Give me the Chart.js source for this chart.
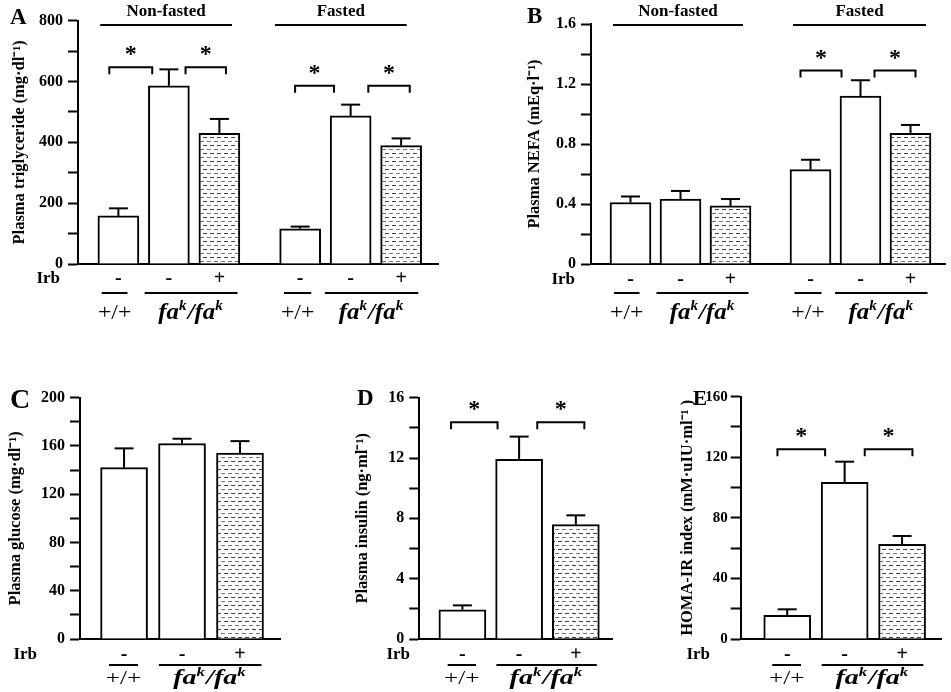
<!DOCTYPE html>
<html lang="en">
<head>
  <meta charset="UTF-8">
  <title>Plasma parameters</title>
  <script src="https://cdn.jsdelivr.net/npm/chart.js"></script>
  <style>
    body { margin: 0; background: #fff; }
    #page { position: relative; width: 951px; height: 692px; }
    #page canvas { position: absolute; }
  </style>
</head>
<body>
<div id="page"></div>

<script>
  // ---- data ----
  const barPos6 = [1, 2, 3, 4.6, 5.6, 6.6];
  const barPos3 = [1, 2, 3];
  const irb6 = ['-', '-', '+', '-', '-', '+'];
  const irb3 = ['-', '-', '+'];
  const fastGroups = ['Non-fasted', 'Fasted'];

  const tgMean = [158, 586, 430, 116, 487, 389];
  const tgSem = [25, 54, 47, 7, 37, 24];
  const nefaMean = [0.41, 0.433, 0.387, 0.629, 1.12, 0.871];
  const nefaSem = [0.04, 0.054, 0.046, 0.066, 0.105, 0.056];
  const gluMean = [142, 162, 154];
  const gluSem = [16, 4, 10];
  const insMean = [1.94, 11.92, 7.58];
  const insSem = [0.29, 1.5, 0.62];
  const homaMean = [15.6, 103.5, 62.5];
  const homaSem = [4, 13.6, 5.5];

  // significance brackets: [from x, to x, height]
  const tgStars = [[0.82, 1.67, 647], [2.33, 3.13, 647], [4.5, 5.27, 586], [5.95, 6.77, 586]];
  const nefaStars = [[4.40, 5.22, 1.29], [5.88, 6.70, 1.29]];
  const insStars = [[0.80, 1.62, 14.37], [2.32, 3.15, 14.37]];
  const homaStars = [[0.83, 1.66, 125.3], [2.35, 3.18, 125.3]];

  // genotype underlines: [from x, to x, label]
  const geno6 = [[0.67, 1.18, '+/+'], [1.52, 3.36, 'fa'], [4.28, 4.82, '+/+'], [5.09, 6.94, 'fa']];
  const geno3 = [[0.74, 1.24, '+/+'], [1.6, 3.37, 'fa']];
  const headersA = [[0.64, 3.25], [4.1, 6.71]];
  const headersB = [[0.65, 3.25], [4.25, 6.91]];

  const SERIF = '"Liberation Serif", "Times New Roman", serif';
  const TITLE_SIZE = 16.5;

  function makeHatch() {
    const c = document.createElement('canvas');
    c.width = 7; c.height = 8;
    const g = c.getContext('2d');
    g.fillStyle = '#fff'; g.fillRect(0, 0, 7, 8);
    g.fillStyle = '#444'; g.fillRect(0, 1, 4, 1);
    g.fillStyle = '#777'; g.fillRect(4, 5, 3, 1); g.fillRect(0, 5, 1, 1);
    return g.createPattern(c, 'repeat');
  }
  const hatch = makeHatch();

  const panels = [
    { letter: 'A', letterPos: [10, 23.5], letterSize: 23,
      box: { l: 0, t: 0, w: 470, h: 345 }, area: { l: 78, t: 20.7, r: 438, b: 264 },
      titleX: 20, yTitle: 'Plasma triglyceride (mg\u00b7dl\u207b\u00b9)', tickSize: 16, tickPad: 5,
      max: 800, step: 100, dec: 0, xmin: 0.2, xmax: 7.33, barW: 41,
      pos: barPos6, mean: tgMean, sem: tgSem, irb: irb6, stars: tgStars, geno: geno6,
      headers: headersA, rows: [15, 29, 48], irbRight: 60,
      wtSize: 22, genoSize: 23, stretch: 1.08 },
    { letter: 'B', letterPos: [527, 23], letterSize: 23,
      box: { l: 470, t: 0, w: 481, h: 345 }, area: { l: 591, t: 24, r: 945, b: 264 },
      titleX: 535, yTitle: 'Plasma NEFA (mEq\u00b7l\u207b\u00b9)', tickSize: 16, tickPad: 5,
      max: 1.6, step: 0.2, dec: 1, xmin: 0.21, xmax: 7.29, barW: 41,
      pos: barPos6, mean: nefaMean, sem: nefaSem, irb: irb6, stars: nefaStars, geno: geno6,
      headers: headersB, rows: [16, 29, 48], irbRight: 575,
      wtSize: 22, genoSize: 23, stretch: 1.08 },
    { letter: 'C', letterPos: [10, 408], letterSize: 28,
      box: { l: 0, t: 380, w: 320, h: 312 }, area: { l: 80, t: 397.7, r: 280, b: 639 },
      titleX: 16, yTitle: 'Plasma glucose (mg\u00b7dl\u207b\u00b9)', tickSize: 16, tickPad: 5,
      max: 200, step: 20, dec: 0, xmin: 0.24, xmax: 3.69, barW: 47,
      pos: barPos3, mean: gluMean, sem: gluSem, irb: irb3, stars: [], geno: geno3,
      headers: null, rows: [16, 26, 39], irbRight: 37,
      wtSize: 18, genoSize: 20, stretch: 1.4 },
    { letter: 'D', letterPos: [357, 405], letterSize: 23,
      box: { l: 320, t: 380, w: 310, h: 312 }, area: { l: 419.3, t: 397.7, r: 612.7, b: 639 },
      titleX: 362.5, yTitle: 'Plasma insulin (ng\u00b7ml\u207b\u00b9)', tickSize: 16, tickPad: 5,
      max: 16, step: 2, dec: 0, xmin: 0.24, xmax: 3.65, barW: 47,
      pos: barPos3, mean: insMean, sem: insSem, irb: irb3, stars: insStars, geno: geno3,
      headers: null, rows: [16, 26, 39], irbRight: 410,
      wtSize: 18, genoSize: 20, stretch: 1.4 },
    { letter: 'E', letterPos: [693, 405], letterSize: 21,
      box: { l: 630, t: 380, w: 321, h: 312 }, area: { l: 740.7, t: 396.7, r: 941.7, b: 639 },
      titleX: 688, yTitle: 'HOMA-IR index (mM\u00b7uIU\u00b7ml\u207b\u00b9 )', tickSize: 15, tickPad: 3,
      max: 160, step: 20, dec: 0, xmin: 0.19, xmax: 3.69, barW: 47,
      pos: barPos3, mean: homaMean, sem: homaSem, irb: irb3, stars: homaStars, geno: geno3,
      headers: null, rows: [16, 26, 39], irbRight: 710,
      wtSize: 18, genoSize: 20, stretch: 1.4 }
  ];

  function hline(ctx, x1, x2, y) {
    ctx.beginPath(); ctx.moveTo(x1, y); ctx.lineTo(x2, y); ctx.stroke();
  }

  // genotype label, drawn a little wider like the printed figure
  function drawLabel(ctx, lab, cx, cy, p) {
    ctx.save();
    ctx.translate(cx, cy);
    ctx.scale(p.stretch, 1);
    ctx.textBaseline = 'alphabetic';
    if (lab !== 'fa') {
      ctx.font = p.wtSize + 'px ' + SERIF;
      ctx.textAlign = 'center';
      ctx.fillText(lab, 0, p.wtSize * 0.32);
      ctx.restore();
      return;
    }
    const size = p.genoSize;
    const parts = [['fa', 0], ['k', 1], ['/fa', 0], ['k', 1]];
    const big = 'italic bold ' + size + 'px ' + SERIF;
    const small = 'italic bold ' + Math.round(size * 0.62) + 'px ' + SERIF;
    let w = 0;
    parts.forEach(([t, s]) => { ctx.font = s ? small : big; w += ctx.measureText(t).width + (s ? 1 : 0); });
    let x = -w / 2;
    const base = size * 0.32;
    ctx.textAlign = 'left';
    parts.forEach(([t, s]) => {
      ctx.font = s ? small : big;
      ctx.fillText(t, x, s ? base - size * 0.4 : base);
      x += ctx.measureText(t).width + (s ? 1 : 0);
    });
    ctx.restore();
  }

  function annotations(p) {
    return {
      id: 'annot' + p.letter,
      afterDatasetsDraw(chart) {
        const ctx = chart.ctx, xs = chart.scales.x, ys = chart.scales.y, area = chart.chartArea;
        ctx.save();
        ctx.strokeStyle = '#000';
        ctx.fillStyle = '#000';
        ctx.lineWidth = 2;

        // error bars (upper only)
        p.mean.forEach((m, i) => {
          const x = xs.getPixelForValue(p.pos[i]);
          const y0 = ys.getPixelForValue(m);
          const y1 = ys.getPixelForValue(m + p.sem[i]);
          ctx.beginPath(); ctx.moveTo(x, y0); ctx.lineTo(x, y1); ctx.stroke();
          hline(ctx, x - 9.5, x + 9.5, y1);
        });

        // significance brackets
        p.stars.forEach(([a, b, v]) => {
          const x1 = xs.getPixelForValue(a), x2 = xs.getPixelForValue(b), y = ys.getPixelForValue(v);
          ctx.beginPath();
          ctx.moveTo(x1, y + 7); ctx.lineTo(x1, y); ctx.lineTo(x2, y); ctx.lineTo(x2, y + 7);
          ctx.stroke();
          ctx.font = 'bold 24px ' + SERIF;
          ctx.textAlign = 'center';
          ctx.textBaseline = 'alphabetic';
          ctx.fillText('*', (x1 + x2) / 2, y - 6);
        });

        // fasting group headers
        if (p.headers) {
          p.headers.forEach(([a, b], i) => {
            const x1 = xs.getPixelForValue(a), x2 = xs.getPixelForValue(b);
            hline(ctx, x1, x2, 25);
            ctx.font = 'bold 17px ' + SERIF;
            ctx.textAlign = 'center';
            ctx.textBaseline = 'middle';
            ctx.fillText(fastGroups[i], (x1 + x2) / 2, 12);
          });
        }

        // Irb row
        const r0 = area.bottom + p.rows[0];
        ctx.textBaseline = 'middle';
        ctx.font = 'bold 17px ' + SERIF;
        ctx.textAlign = 'right';
        ctx.fillText('Irb', p.irbRight - p.box.l, r0);
        ctx.textAlign = 'center';
        ctx.font = 'bold 20px ' + SERIF;
        p.irb.forEach((s, i) => ctx.fillText(s, xs.getPixelForValue(p.pos[i]), r0));

        // genotype lines and labels
        const r1 = area.bottom + p.rows[1], r2 = area.bottom + p.rows[2];
        p.geno.forEach(([a, b, lab]) => {
          const x1 = xs.getPixelForValue(a), x2 = xs.getPixelForValue(b);
          hline(ctx, x1, x2, r1);
          drawLabel(ctx, lab, (x1 + x2) / 2, r2, p);
        });

        // panel letter
        ctx.font = 'bold ' + p.letterSize + 'px ' + SERIF;
        ctx.textAlign = 'left';
        ctx.textBaseline = 'alphabetic';
        ctx.fillText(p.letter, p.letterPos[0] - p.box.l, p.letterPos[1] - p.box.t);
        ctx.restore();
      }
    };
  }

  const page = document.getElementById('page');

  panels.forEach(p => {
    const canvas = document.createElement('canvas');
    canvas.width = p.box.w;
    canvas.height = p.box.h;
    canvas.style.left = p.box.l + 'px';
    canvas.style.top = p.box.t + 'px';
    page.appendChild(canvas);

    new Chart(canvas, {
      type: 'bar',
      data: {
        datasets: [{
          data: p.pos.map((x, i) => ({ x: x, y: p.mean[i] })),
          backgroundColor: p.irb.map(s => s === '+' ? hatch : '#fff'),
          borderColor: '#000',
          borderWidth: 2,
          borderSkipped: 'bottom',
          barThickness: p.barW
        }]
      },
      options: {
        responsive: false,
        animation: false,
        devicePixelRatio: 1,
        layout: {
          padding: {
            left: 0,
            top: p.area.t - p.box.t,
            right: p.box.l + p.box.w - p.area.r,
            bottom: p.box.t + p.box.h - p.area.b
          }
        },
        plugins: { legend: { display: false }, tooltip: { enabled: false } },
        scales: {
          x: {
            type: 'linear', min: p.xmin, max: p.xmax, offset: false,
            ticks: { display: false },
            grid: { display: false, drawTicks: false },
            border: { display: true, color: '#000', width: 2 },
            afterFit: s => { s.height = 0; }
          },
          y: {
            min: 0, max: p.max,
            ticks: {
              stepSize: p.step, color: '#000', padding: p.tickPad,
              font: { family: SERIF, size: p.tickSize, weight: 'bold' },
              callback: (v, i) => i % 2 === 0 ? (+v.toFixed(p.dec)).toString() : ''
            },
            grid: { drawOnChartArea: false, tickLength: 10, tickColor: '#000', tickWidth: 2 },
            border: { display: true, color: '#000', width: 2 },
            title: {
              display: true, text: p.yTitle, color: '#000',
              font: { family: SERIF, size: TITLE_SIZE, weight: 'bold' },
              padding: { top: p.titleX - p.box.l - TITLE_SIZE * 0.6, bottom: 0 }
            },
            afterFit: s => { s.width = p.area.l - p.box.l; }
          }
        }
      },
      plugins: [annotations(p)]
    });
  });
</script>
</body>
</html>
